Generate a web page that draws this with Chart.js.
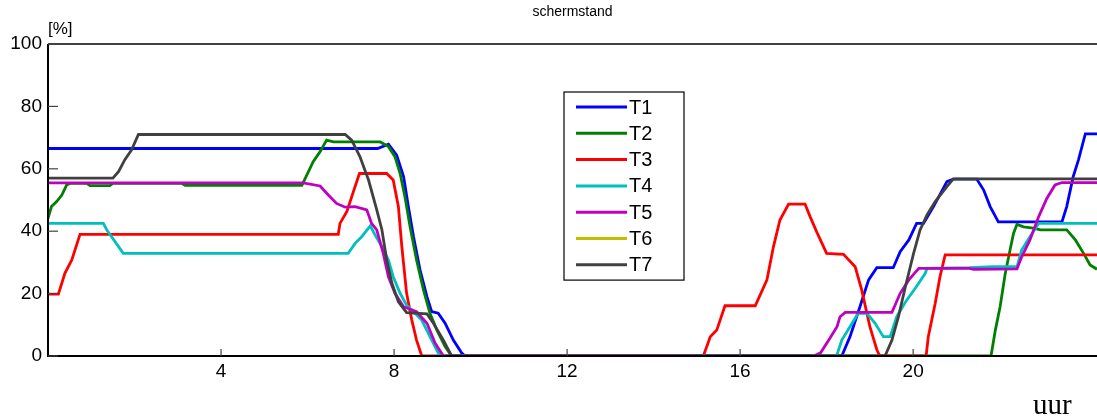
<!DOCTYPE html>
<html>
<head>
<meta charset="utf-8">
<script src="https://cdn.jsdelivr.net/npm/chart.js@4"></script>
<style>
    body { margin: 0; background: #fff; }
    #wrap { width: 1097px; height: 419px; }
</style>
</head>
<body>
<div id="wrap"><canvas id="myChart" width="1097" height="419"></canvas></div>
<script>
// schermstand per uur, [uur, %]
const seriesNames = ['T1', 'T2', 'T3', 'T4', 'T5', 'T6', 'T7'];
const seriesColors = ['#0000ff', '#008000', '#ff0000', '#00bfbf', '#bf00bf', '#bfbf00', '#404040'];
const xTicks = [4, 8, 12, 16, 20];
const yTicks = [0, 20, 40, 60, 80, 100];

const t1 = [[0, 66.5], [7.62, 66.5], [7.87, 67.9], [8.06, 64.4], [8.22, 57.5], [8.33, 47.9], [8.45, 38.2], [8.6, 27.6],
    [8.76, 19], [8.87, 14.2], [9.02, 13.7], [9.18, 10.5], [9.37, 5.1], [9.56, 1], [9.64, 0], [18.35, 0], [18.54, 6.2],
    [18.77, 15.8], [18.97, 24.4], [19.16, 28.3], [19.54, 28.3], [19.7, 33.4], [19.9, 37.2], [20.08, 42.5], [20.24, 42.5],
    [20.47, 47.9], [20.78, 55.9], [20.93, 56.7], [21.47, 56.7], [21.63, 53.2], [21.78, 47.9], [21.97, 43], [23.44, 43],
    [23.55, 47.9], [23.7, 57.5], [23.82, 62.8], [23.98, 71.2], [24.25, 71.2]];
const t2 = [[0, 44.1], [0.08, 47.9], [0.2, 49.5], [0.32, 51.6], [0.43, 54.8], [0.51, 55.3], [0.9, 55.3], [0.97, 54.6],
    [1.43, 54.6], [1.5, 55.3], [3.1, 55.3], [3.17, 54.7], [5.87, 54.7], [6.13, 62.3], [6.29, 65.5], [6.44, 69.2],
    [6.6, 68.6], [7.68, 68.6], [7.87, 67.1], [8.02, 63.9], [8.14, 58.5], [8.25, 51.1], [8.37, 41.4], [8.52, 30.8],
    [8.68, 21.2], [8.83, 13.7], [8.99, 8.3], [9.18, 3], [9.33, 0], [21.8, 0], [21.9, 8.3], [22.01, 15.8], [22.13, 26.5],
    [22.24, 34], [22.32, 39.3], [22.4, 42.2], [22.55, 41.4], [22.78, 41], [22.94, 40.4], [23.55, 40.4], [23.75, 37.2],
    [23.94, 32.9], [24.09, 29.2], [24.25, 27.8]];
const t3 = [[0, 19.8], [0.24, 19.8], [0.39, 26.5], [0.55, 30.8], [0.74, 39], [6.71, 39], [6.75, 42.5], [6.91, 46.3],
    [7.06, 52.7], [7.2, 58.5], [7.83, 58.5], [7.98, 56.4], [8.1, 47.9], [8.18, 35], [8.29, 20.1], [8.41, 11.5],
    [8.52, 5.1], [8.64, 0], [15.15, 0], [15.31, 6.2], [15.46, 8.3], [15.65, 16.1], [16.35, 16.1], [16.62, 24.4],
    [16.77, 35], [16.92, 43.6], [17.12, 48.7], [17.5, 48.7], [17.62, 44.6], [17.77, 39.8], [18.0, 32.9], [18.39, 32.6],
    [18.66, 28.6], [18.81, 21.2], [19.0, 9.4], [19.16, 2], [19.23, 0], [20.3, 0], [20.35, 6.2], [20.51, 16.9],
    [20.62, 25.4], [20.74, 32.4], [24.25, 32.4]];
const t4 = [[0, 42.5], [1.28, 42.5], [1.36, 40.4], [1.74, 32.9], [6.94, 32.9], [7.1, 36.1], [7.25, 38.2], [7.45, 41.7],
    [7.56, 38.8], [7.72, 35], [7.87, 30.8], [7.98, 25.4], [8.14, 20.1], [8.29, 16.3], [8.45, 14.2], [8.64, 11.5],
    [8.83, 6.2], [9.02, 1], [9.1, 0], [18.23, 0], [18.35, 5.1], [18.54, 9.4], [18.73, 13.7], [18.93, 13.7],
    [19.12, 10.5], [19.31, 6.2], [19.47, 6.2], [19.62, 12.6], [19.85, 17.9], [20.05, 21.7], [20.28, 26.5],
    [20.32, 28.1], [21.3, 28.3], [21.85, 28.6], [22.4, 28.6], [22.51, 34], [22.7, 38.2], [22.9, 42.5], [24.25, 42.5]];
const t5 = [[0, 55.5], [5.9, 55.5], [6.29, 54.5], [6.48, 51.6], [6.67, 48.9], [6.87, 47.7], [7.1, 47.9], [7.37, 46.8],
    [7.48, 42.5], [7.6, 40.4], [7.75, 32.9], [7.87, 25.4], [8.02, 20.1], [8.22, 15.8], [8.52, 14.2], [8.76, 10.5],
    [8.95, 4.1], [9.14, 0], [17.7, 0], [17.86, 1], [18.05, 5.1], [18.24, 9.4], [18.31, 12.6], [18.43, 14],
    [19.51, 14], [19.7, 20.1], [19.9, 24.4], [20.13, 28.1], [21.3, 28.1], [21.4, 27.8], [22.4, 27.9], [22.51, 31.8],
    [22.7, 37.2], [22.9, 44.6], [23.09, 50.5], [23.28, 54.8], [23.44, 55.6], [24.25, 55.6]];
const t6 = [];
const t7 = [[0, 57], [1.5, 57], [1.63, 59.1], [1.78, 63], [1.93, 66], [2.09, 71], [6.87, 71], [7.02, 69.2],
    [7.21, 63.9], [7.41, 56.4], [7.6, 46.8], [7.72, 40.4], [7.83, 30.8], [7.95, 23.3], [8.1, 17.4], [8.29, 13.9],
    [8.76, 13.5], [8.91, 10.5], [9.14, 5.1], [9.33, 0], [19.35, 0], [19.51, 5.1], [19.66, 12.6], [19.82, 22.2],
    [20.01, 32.9], [20.16, 40.4], [20.32, 45.2], [20.51, 49.5], [20.78, 54.3], [20.93, 56.8], [24.25, 56.8]];

const seriesData = [t1, t2, t3, t4, t5, t6, t7];

// assen, tickstreepjes naar binnen, teksten en legenda
const framePlugin = {
    id: 'frame',
    afterDraw(chart) {
        const c = chart.ctx;
        const a = chart.chartArea;
        const x = chart.scales.x;
        const y = chart.scales.y;
        c.save();

        c.strokeStyle = '#000';
        c.lineWidth = 2;
        c.beginPath();
        c.moveTo(a.left, a.top);
        c.lineTo(a.left, a.bottom);
        c.lineTo(a.right, a.bottom);
        c.stroke();
        c.lineWidth = 1.5;
        c.beginPath();
        c.moveTo(a.left, a.top);
        c.lineTo(a.right, a.top);
        c.stroke();

        c.strokeStyle = '#444';
        c.lineWidth = 1.2;
        yTicks.forEach(v => {
            const py = y.getPixelForValue(v);
            c.beginPath();
            c.moveTo(a.left, py);
            c.lineTo(a.left + 10, py);
            c.stroke();
        });
        xTicks.forEach(v => {
            const px = x.getPixelForValue(v);
            c.beginPath();
            c.moveTo(px, a.bottom);
            c.lineTo(px, a.bottom - 7);
            c.stroke();
        });

        c.fillStyle = '#000';
        c.textBaseline = 'alphabetic';
        c.textAlign = 'center';
        c.font = '14px "Liberation Sans", Arial, sans-serif';
        c.fillText('schermstand', (a.left + a.right) / 2, 16);
        c.textAlign = 'left';
        c.font = '17px "Liberation Sans", Arial, sans-serif';
        c.fillText('[%]', a.left, 34);
        c.font = '29px "Liberation Serif", "Times New Roman", serif';
        c.fillText('uur', 1033, 414);

        // legenda
        const bx = 564, by = 92, bw = 120, rowH = 26.3;
        const bh = rowH * seriesNames.length + 4;
        c.fillStyle = '#fff';
        c.fillRect(bx, by, bw, bh);
        c.strokeStyle = '#000';
        c.lineWidth = 1.2;
        c.strokeRect(bx, by, bw, bh);
        c.font = '20px "Liberation Sans", Arial, sans-serif';
        c.textBaseline = 'middle';
        chart.data.datasets.forEach((ds, i) => {
            const ry = by + 15 + i * rowH;
            c.strokeStyle = ds.borderColor;
            c.lineWidth = 3;
            c.beginPath();
            c.moveTo(bx + 12, ry);
            c.lineTo(bx + 63, ry);
            c.stroke();
            c.fillStyle = '#000';
            c.fillText(ds.label, bx + 65, ry + 1);
        });
        c.restore();
    }
};

function plotarGrafico() {
    const ctx = document.getElementById('myChart');

    const datasets = seriesNames.map((name, i) => ({
        label: name,
        data: seriesData[i].map(p => ({ x: p[0], y: p[1] })),
        borderColor: seriesColors[i],
        backgroundColor: seriesColors[i],
        borderWidth: 2.8,
        pointRadius: 0,
        tension: 0,
        fill: false,
        order: seriesNames.length - i
    }));

    myChart = new Chart(ctx, {
        type: 'line',
        data: { datasets: datasets },
        options: {
            responsive: false,
            animation: false,
            events: [],
            layout: { padding: { top: 44, right: 0, bottom: 0, left: 0 } },
            plugins: {
                legend: { display: false },
                title: { display: false },
                tooltip: { enabled: false }
            },
            scales: {
                x: {
                    type: 'linear',
                    min: 0,
                    max: 24.25,
                    afterBuildTicks: axis => { axis.ticks = xTicks.map(v => ({ value: v })); },
                    afterFit: axis => { axis.height = 63; },
                    grid: { display: false, drawTicks: false },
                    border: { display: false },
                    ticks: {
                        padding: 4,
                        color: '#000',
                        maxRotation: 0,
                        font: { family: '"Liberation Sans", Arial, sans-serif', size: 19 }
                    }
                },
                y: {
                    min: 0,
                    max: 100,
                    afterBuildTicks: axis => { axis.ticks = yTicks.map(v => ({ value: v })); },
                    afterFit: axis => { axis.width = 48; },
                    grid: { display: false, drawTicks: false },
                    border: { display: false },
                    ticks: {
                        padding: 6,
                        color: '#000',
                        font: { family: '"Liberation Sans", Arial, sans-serif', size: 19 }
                    }
                }
            }
        },
        plugins: [framePlugin]
    });
}

plotarGrafico();
</script>
</body>
</html>
